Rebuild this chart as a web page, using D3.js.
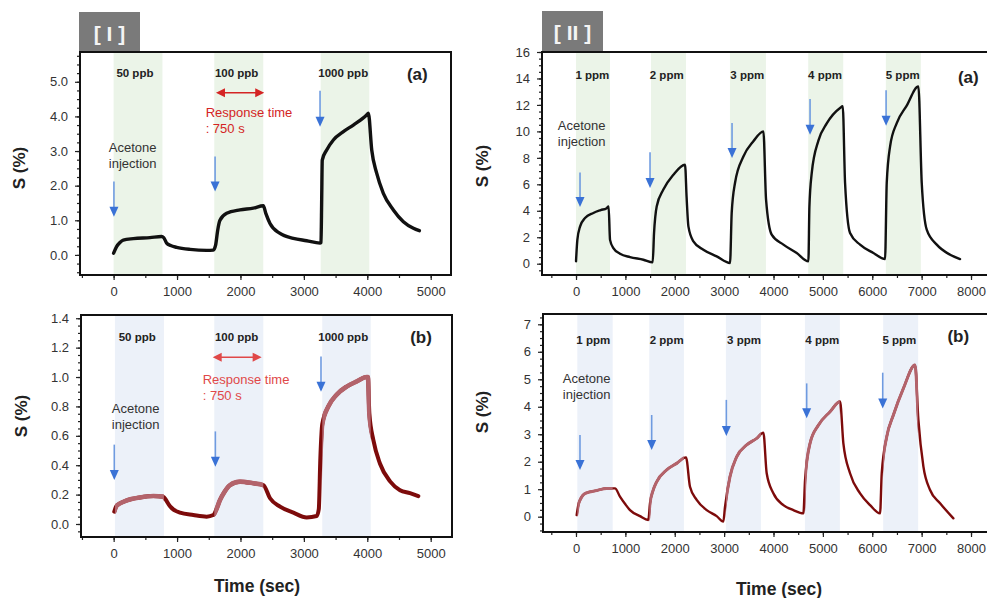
<!DOCTYPE html>
<html><head><meta charset="utf-8">
<script src="https://cdn.jsdelivr.net/npm/d3@7"></script>
<style>
body{margin:0;background:#fff;}
svg{display:block;font-family:"Liberation Sans",Arial,Helvetica,sans-serif;}
</style>
</head><body>
<svg id="chart" width="987" height="598"></svg>
<script>
// ---------------- DATA ----------------
// Part [I] : 50 / 100 / 1000 ppb
const concI = ["50 ppb", "100 ppb", "1000 ppb"];
const bandsIa = [[0, 770], [1587, 2360], [3265, 4032]];
const bandsIb = [[20, 793], [1587, 2360], [3290, 4054]];
const seriesIa = [[0,0.05],[47,0.24],[100,0.36],[152,0.43],[310,0.47],[573,0.5],[757,0.53],[790,0.5],[836,0.34],[900,0.27],[994,0.22],[1204,0.16],[1467,0.13],[1572,0.14],[1610,0.3],[1640,0.7],[1677,1.0],[1782,1.2],[1993,1.3],[2203,1.35],[2361,1.42],[2400,1.2],[2466,0.91],[2624,0.62],[2834,0.48],[3044,0.41],[3254,0.34],[3270,0.36],[3281,1.6],[3290,2.74],[3360,3.03],[3465,3.32],[3623,3.56],[3780,3.75],[3990,4.04],[4017,4.09],[4070,3.03],[4148,2.36],[4253,1.78],[4411,1.3],[4569,0.96],[4727,0.77],[4821,0.70]];
const seriesIb = [[10,0.084],[40,0.12],[100,0.14],[205,0.16],[415,0.18],[626,0.19],[783,0.186],[830,0.16],[889,0.12],[1046,0.077],[1257,0.061],[1467,0.05],[1572,0.061],[1620,0.10],[1677,0.163],[1750,0.22],[1835,0.265],[1993,0.288],[2203,0.277],[2361,0.265],[2466,0.175],[2624,0.118],[2834,0.077],[3044,0.045],[3202,0.054],[3235,0.1],[3260,0.45],[3290,0.68],[3386,0.8],[3517,0.88],[3675,0.935],[3833,0.97],[3991,1.0],[4010,1.0],[4033,0.75],[4096,0.57],[4201,0.41],[4359,0.29],[4516,0.23],[4674,0.21],[4805,0.19]];
const yTicksIa = [0, 1, 2, 3, 4, 5];
const yTicksIb = [0, 0.2, 0.4, 0.6, 0.8, 1.0, 1.2, 1.4];
const xTicksI = [0, 1000, 2000, 3000, 4000, 5000];
const arrowsIa = [[5, 2.12, 1.1], [1600, 2.84, 1.83], [3255, 4.74, 3.70]];
const arrowsIb = [[10, 0.54, 0.30], [1604, 0.63, 0.39], [3270, 1.14, 0.90]];

// Part [II] : 1 - 5 ppm
const concII = ["1 ppm", "2 ppm", "3 ppm", "4 ppm", "5 ppm"];
const bandsIIa = [[0, 688], [1518, 2227], [3117, 3846], [4703, 5412], [6275, 6984]];
const bandsIIb = [[27, 743], [1484, 2186], [3036, 3745], [4636, 5344], [6221, 6930]];
const seriesIIa = [[0,0.18],[27,1.8],[81,2.8],[182,3.45],[351,3.83],[500,4.05],[621,4.2],[660,4.33],[689,1.8],[756,1.18],[891,0.76],[1094,0.5],[1364,0.3],[1553,0.1],[1580,2.3],[1634,4.33],[1769,5.6],[1972,6.73],[2208,7.48],[2240,5.0],[2276,2.82],[2377,1.69],[2579,1.06],[2849,0.55],[3119,0.05],[3153,3.83],[3220,6.1],[3390,8.1],[3592,9.25],[3795,10.0],[3849,4.84],[3963,2.19],[4200,1.44],[4470,0.81],[4706,0.18],[4727,4.33],[4774,6.85],[4909,9.3],[5078,10.6],[5348,11.77],[5402,11.9],[5449,6.1],[5550,2.32],[5753,1.44],[6023,0.81],[6259,0.35],[6293,6.1],[6361,8.87],[6496,10.63],[6698,11.95],[6934,13.4],[7002,6.1],[7103,2.57],[7306,1.44],[7576,0.68],[7778,0.35]];
const seriesIIb = [[14,0.06],[50,0.45],[81,0.6],[140,0.78],[216,0.87],[419,0.95],[621,1.03],[790,1.03],[891,0.73],[1000,0.45],[1094,0.24],[1296,0.02],[1465,-0.12],[1499,0.49],[1560,0.95],[1634,1.27],[1837,1.7],[2039,1.94],[2228,2.16],[2309,1.09],[2444,0.61],[2647,0.24],[2849,0.02],[2984,-0.18],[3018,0.36],[3119,1.46],[3254,2.18],[3457,2.61],[3660,2.85],[3795,3.06],[3862,1.58],[3997,0.85],[4200,0.42],[4403,0.24],[4605,0.12],[4639,1.33],[4740,2.67],[4909,3.33],[5145,3.82],[5348,4.19],[5415,2.67],[5550,1.58],[5753,0.85],[5956,0.42],[6158,0.12],[6192,1.58],[6293,2.91],[6428,3.7],[6631,4.67],[6867,5.52],[6934,3.52],[7036,1.82],[7171,0.97],[7373,0.49],[7643,-0.06]];
const yTicksIIa = [0, 2, 4, 6, 8, 10, 12, 14, 16];
const yTicksIIb = [0, 1, 2, 3, 4, 5, 6, 7];
const xTicksII = [0, 1000, 2000, 3000, 4000, 5000, 6000, 7000, 8000];
const arrowsIIa = [[81, 6.9, 4.28], [1499, 8.42, 5.72], [3160, 10.63, 7.99], [4740, 12.45, 9.75], [6280, 13.1, 10.43]];
const arrowsIIb = [[81, 2.97, 1.7], [1533, 3.7, 2.43], [3045, 4.25, 2.94], [4672, 4.85, 3.58], [6212, 5.24, 3.94]];

const injectionText = ["Acetone", "injection"];
const responseText = ["Response time", ": 750 s"];

// ---------------- DRAWING ----------------
const svg = d3.select("#chart");
const defs = svg.append("defs");

function range(a, b, s) { const r = []; for (let v = a; v <= b + 1e-9; v += s) r.push(+v.toFixed(4)); return r; }

function panel(c) {
  const x = d3.scaleLinear().domain(c.xDomain).range([c.left, c.right]);
  const y = d3.scaleLinear().domain(c.yDomain).range([c.bottom, c.top]);
  const g = svg.append("g");
  const H = c.bottom - c.top;

  defs.append("clipPath").attr("id", "plot" + c.id)
    .append("rect").attr("x", c.left).attr("y", c.top).attr("width", c.right - c.left).attr("height", H);

  // shaded exposure bands
  g.append("g").selectAll("rect").data(c.bands).join("rect")
    .attr("x", d => x(d[0])).attr("width", d => x(d[1]) - x(d[0]))
    .attr("y", c.top).attr("height", H).attr("fill", c.bandColor);

  // axes (ticks outward)
  const yMaj = d3.axisLeft(y).tickValues(c.yTicks).tickFormat(c.yFmt).tickSize(5).tickPadding(7);
  const yMin = d3.axisLeft(y).tickValues(c.yMinor).tickFormat("").tickSize(3);
  const xMaj = d3.axisBottom(x).tickValues(c.xTicks).tickFormat(d3.format("d")).tickSize(5).tickPadding(7);
  const xMin = d3.axisBottom(x).tickValues(c.xMinor).tickFormat("").tickSize(3);
  [[yMin, `translate(${c.left},0)`], [yMaj, `translate(${c.left},0)`],
   [xMin, `translate(0,${c.bottom})`], [xMaj, `translate(0,${c.bottom})`]].forEach(([ax, tr]) => {
    const a = g.append("g").attr("transform", tr).call(ax);
    a.select(".domain").remove();
    a.selectAll("line").attr("stroke", "#222").attr("stroke-width", 1.2);
    a.selectAll("text").attr("fill", "#333").style("font-size", "13px").style("font-family", "'Liberation Sans',Arial,sans-serif");
  });

  // data line
  const line = d3.line().x(d => x(d[0])).y(d => y(d[1])).curve(d3.curveMonotoneX);
  const lg = g.append("g").attr("clip-path", `url(#plot${c.id})`);
  lg.append("path").datum(c.series).attr("d", line).attr("fill", "none")
    .attr("stroke", c.lineColor).attr("stroke-width", c.lineWidth)
    .attr("stroke-linejoin", "round").attr("stroke-linecap", "round");
  if (c.lineColor2) {
    const cp = defs.append("clipPath").attr("id", "band" + c.id);
    cp.selectAll("rect").data(c.bands).join("rect")
      .attr("x", d => x(d[0])).attr("width", d => x(d[1]) - x(d[0]))
      .attr("y", c.top).attr("height", H);
    g.append("g").attr("clip-path", `url(#band${c.id})`)
      .append("path").datum(c.series).attr("d", line).attr("fill", "none")
      .attr("stroke", c.lineColor2).attr("stroke-width", c.lineWidth + 0.6)
      .attr("stroke-linejoin", "round").attr("stroke-linecap", "round");
  }

  // frame
  g.append("rect").attr("x", c.left).attr("y", c.top).attr("width", c.right - c.left).attr("height", H)
    .attr("fill", "none").attr("stroke", "#111").attr("stroke-width", 2);

  // concentration labels
  g.append("g").selectAll("text").data(c.conc).join("text")
    .attr("x", (d, i) => x(c.concX[i])).attr("y", y(c.concY))
    .attr("text-anchor", "middle").attr("font-weight", "bold").attr("font-size", "11.5px").attr("fill", "#222")
    .text(d => d);

  // panel letter
  g.append("text").attr("x", x(c.letterPos[0])).attr("y", y(c.letterPos[1]))
    .attr("text-anchor", "middle").attr("font-weight", "bold").attr("font-size", "17px").attr("fill", "#222")
    .text(c.letter);

  // Acetone injection
  g.append("g").selectAll("text").data(injectionText).join("text")
    .attr("x", x(c.injPos[0])).attr("y", (d, i) => y(c.injPos[1]) + i * 16)
    .attr("text-anchor", "middle").attr("font-size", "13px").attr("fill", "#333")
    .text(d => d);

  // blue arrows
  const ag = g.append("g");
  c.arrows.forEach(a => {
    const ax = x(a[0]), y0 = y(a[1]), y1 = y(a[2]);
    ag.append("line").attr("x1", ax).attr("x2", ax).attr("y1", y0).attr("y2", y1 - 6)
      .attr("stroke", "#6f9be0").attr("stroke-width", 1.6);
    ag.append("path").attr("d", `M${ax - 4.5},${y1 - 10}L${ax + 4.5},${y1 - 10}L${ax},${y1}Z`).attr("fill", "#3a72d6");
  });

  // response time annotation
  if (c.resp) {
    const rx0 = x(c.resp.arrow[0]), rx1 = x(c.resp.arrow[1]), ry = y(c.resp.arrow[2]);
    g.append("line").attr("x1", rx0 + 6).attr("x2", rx1 - 6).attr("y1", ry).attr("y2", ry)
      .attr("stroke", c.resp.color).attr("stroke-width", 1.5);
    g.append("path").attr("d", `M${rx0},${ry}L${rx0 + 9},${ry - 4.5}L${rx0 + 9},${ry + 4.5}Z M${rx1},${ry}L${rx1 - 9},${ry - 4.5}L${rx1 - 9},${ry + 4.5}Z`)
      .attr("fill", c.resp.color);
    g.append("g").selectAll("text").data(responseText).join("text")
      .attr("x", x(c.resp.text[0])).attr("y", (d, i) => y(c.resp.text[1]) + i * 16)
      .attr("font-size", "13px").attr("fill", c.resp.color).text(d => d);
  }

  // y title
  g.append("text").attr("transform", `translate(${c.yTitle[0]},${c.yTitle[1]}) rotate(-90)`)
    .attr("text-anchor", "middle").attr("font-weight", "bold").attr("font-size", "17px").attr("fill", "#222")
    .text("S (%)");
}

const GREEN = "#ebf4e8", BLUE = "#ecf1f9";
const BLACK = "#111", DARKRED = "#7d0b0b", ROSE = "#b3636b";

panel({ id: "Ia", left: 80, right: 451, top: 52, bottom: 275, xDomain: [-530, 5320], yDomain: [-0.58, 5.86],
  bands: bandsIa, bandColor: GREEN, series: seriesIa, lineColor: BLACK, lineWidth: 3.4,
  yTicks: yTicksIa, yMinor: range(-0.5, 5.75, 0.25), yFmt: d3.format(".1f"),
  xTicks: xTicksI, xMinor: range(-500, 5000, 500),
  conc: concI, concX: [336, 1940, 3621], concY: 5.15, letter: "(a)", letterPos: [4789, 5.05],
  injPos: [300, 2.97], arrows: arrowsIa,
  resp: { arrow: [1614, 2375, 4.68], text: [1451, 3.99], color: "#d42424" },
  yTitle: [25, 168] });

panel({ id: "Ib", left: 81, right: 452, top: 315, bottom: 537, xDomain: [-515, 5336], yDomain: [-0.0885, 1.422],
  bands: bandsIb, bandColor: BLUE, series: seriesIb, lineColor: DARKRED, lineColor2: ROSE, lineWidth: 4,
  yTicks: yTicksIb, yMinor: range(-0.05, 1.4, 0.05), yFmt: d3.format(".1f"),
  xTicks: xTicksI, xMinor: range(-500, 5000, 500),
  conc: concI, concX: [372, 1940, 3621], concY: 1.246, letter: "(b)", letterPos: [4847, 1.232],
  injPos: [347, 0.756], arrows: arrowsIb,
  resp: { arrow: [1562, 2334, 1.135], text: [1404, 0.953], color: "#e04848" },
  yTitle: [27, 416] });

panel({ id: "IIa", left: 542, right: 1000, top: 52, bottom: 275, xDomain: [-689, 8587], yDomain: [-0.854, 16],
  bands: bandsIIa, bandColor: GREEN, series: seriesIIa, lineColor: BLACK, lineWidth: 2.4,
  yTicks: yTicksIIa, yMinor: range(-0.5, 16, 0.5), yFmt: d3.format("d"),
  xTicks: xTicksII, xMinor: range(-500, 8500, 500),
  conc: concII, concX: [330, 1837, 3469, 5043, 6617], concY: 13.98, letter: "(a)", letterPos: [7945, 13.66],
  injPos: [115, 10.13], arrows: arrowsIIa,
  yTitle: [488, 166] });

panel({ id: "IIb", left: 543, right: 1000, top: 314, bottom: 532, xDomain: [-668, 8587], yDomain: [-0.557, 7.375],
  bands: bandsIIb, bandColor: BLUE, series: seriesIIb, lineColor: DARKRED, lineColor2: ROSE, lineWidth: 2.4,
  yTicks: yTicksIIb, yMinor: range(-0.5, 7.25, 0.25), yFmt: d3.format("d"),
  xTicks: xTicksII, xMinor: range(-500, 8500, 500),
  conc: concII, concX: [350, 1837, 3403, 4988, 6548], concY: 6.3, letter: "(b)", letterPos: [7743, 6.36],
  injPos: [217, 4.88], arrows: arrowsIIb,
  yTitle: [488, 412] });

// section header boxes
[["[ I ]", 79, 12, 61, 39], ["[ II ]", 542, 11, 61, 40]].forEach(h => {
  svg.append("rect").attr("x", h[1]).attr("y", h[2]).attr("width", h[3]).attr("height", h[4]).attr("fill", "#7a7a7a");
  svg.append("text").attr("x", h[1] + h[3] / 2).attr("y", h[2] + 29).attr("text-anchor", "middle")
    .attr("font-weight", "bold").attr("font-size", "21px").attr("fill", "#f4f4f4").text(h[0]);
});

// x titles
svg.append("text").attr("x", 257).attr("y", 592).attr("text-anchor", "middle")
  .attr("font-weight", "bold").attr("font-size", "17.5px").attr("fill", "#222").text("Time (sec)");
svg.append("text").attr("x", 779).attr("y", 595).attr("text-anchor", "middle")
  .attr("font-weight", "bold").attr("font-size", "17.5px").attr("fill", "#222").text("Time (sec)");
</script>
</body></html>
